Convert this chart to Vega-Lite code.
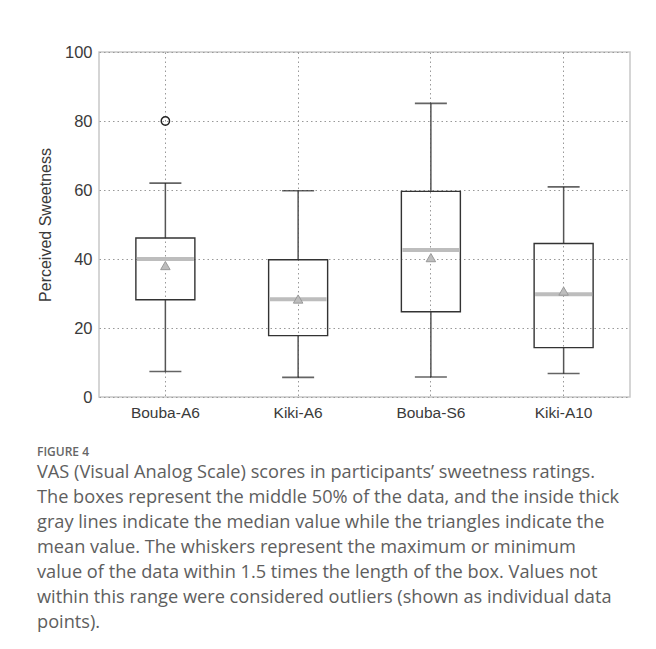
{
  "$schema": "https://vega.github.io/schema/vega-lite/v6.json",
  "width": 531,
  "height": 345,
  "autosize": "none",
  "padding": {"left": 99, "top": 52, "right": 26, "bottom": 252},
  "background": "white",
  "config": {
    "view": {"stroke": "#c8c8c8", "strokeWidth": 1.5},
    "font": "Liberation Sans"
  },
  "title": {
    "text": "FIGURE 4",
    "subtitle": [
      "VAS (Visual Analog Scale) scores in participants’ sweetness ratings.",
      "The boxes represent the middle 50% of the data, and the inside thick",
      "gray lines indicate the median value while the triangles indicate the",
      "mean value. The whiskers represent the maximum or minimum",
      "value of the data within 1.5 times the length of the box. Values not",
      "within this range were considered outliers (shown as individual data",
      "points)."
    ],
    "orient": "bottom",
    "anchor": "start",
    "frame": "group",
    "dx": -62,
    "offset": 26,
    "font": "Open Sans",
    "fontSize": 12,
    "fontWeight": 600,
    "color": "#666666",
    "subtitleFont": "Open Sans",
    "subtitleFontSize": 18.2,
    "subtitleColor": "#5e5e5e",
    "subtitleLineHeight": 25,
    "subtitlePadding": 5
  },
  "datasets": {
    "stats": [
      {"group": "Bouba-A6", "lo": 7.4, "q1": 28.2, "median": 40, "q3": 46.1, "hi": 62, "mean": 38.1},
      {"group": "Kiki-A6", "lo": 5.7, "q1": 17.8, "median": 28.3, "q3": 39.8, "hi": 59.8, "mean": 28.4},
      {"group": "Bouba-S6", "lo": 5.8, "q1": 24.7, "median": 42.6, "q3": 59.6, "hi": 85.1, "mean": 40.4},
      {"group": "Kiki-A10", "lo": 6.8, "q1": 14.3, "median": 29.8, "q3": 44.5, "hi": 60.9, "mean": 30.7}
    ],
    "outliers": [
      {"group": "Bouba-A6", "value": 80}
    ]
  },
  "data": {"name": "stats"},
  "encoding": {
    "x": {
      "field": "group",
      "type": "nominal",
      "sort": null,
      "scale": {"domain": ["Bouba-A6", "Kiki-A6", "Bouba-S6", "Kiki-A10"], "paddingInner": 0, "paddingOuter": 0},
      "axis": {
        "title": null,
        "labelAngle": 0,
        "labelFontSize": 15.5,
        "labelColor": "#3a3a3a",
        "labelPadding": 8,
        "ticks": false,
        "domain": false,
        "grid": true,
        "bandPosition": 0.5,
        "gridDash": [1.5, 3],
        "gridColor": "#999999",
        "gridWidth": 1
      }
    }
  },
  "layer": [
    {
      "mark": {"type": "rule", "color": "#555555", "strokeWidth": 1.5},
      "encoding": {
        "y": {
          "field": "lo",
          "type": "quantitative",
          "title": "Perceived Sweetness",
          "scale": {"domain": [0, 100], "nice": false},
          "axis": {
            "titleFontSize": 16,
            "titleFontWeight": "normal",
            "titleColor": "#3a3a3a",
            "titlePadding": 11,
            "values": [0, 20, 40, 60, 80, 100],
            "labelFontSize": 16.5,
            "labelColor": "#3a3a3a",
            "labelPadding": 7,
            "ticks": false,
            "domain": false,
            "grid": true,
            "gridDash": [1.5, 3],
            "gridColor": "#999999",
            "gridWidth": 1
          }
        },
        "y2": {"field": "q1"}
      }
    },
    {
      "mark": {"type": "rule", "color": "#555555", "strokeWidth": 1.5},
      "encoding": {
        "y": {"field": "q3", "type": "quantitative", "title": "Perceived Sweetness"},
        "y2": {"field": "hi"}
      }
    },
    {
      "mark": {"type": "tick", "color": "#222222", "size": 32, "thickness": 1.6},
      "encoding": {
        "y": {"field": "lo", "type": "quantitative", "title": "Perceived Sweetness"}
      }
    },
    {
      "mark": {"type": "tick", "color": "#222222", "size": 32, "thickness": 1.6},
      "encoding": {
        "y": {"field": "hi", "type": "quantitative", "title": "Perceived Sweetness"}
      }
    },
    {
      "mark": {"type": "bar", "size": 59, "fill": "white", "fillOpacity": 0, "stroke": "#333333", "strokeWidth": 1.4},
      "encoding": {
        "y": {"field": "q1", "type": "quantitative", "title": "Perceived Sweetness"},
        "y2": {"field": "q3"}
      }
    },
    {
      "mark": {"type": "tick", "color": "#bdbdbd", "size": 57, "thickness": 4, "opacity": 1},
      "encoding": {
        "y": {"field": "median", "type": "quantitative", "title": "Perceived Sweetness"}
      }
    },
    {
      "mark": {"type": "point", "shape": "triangle-up", "size": 90, "filled": true, "fill": "#bdbdbd", "stroke": "#999999", "strokeWidth": 1, "opacity": 1},
      "encoding": {
        "y": {"field": "mean", "type": "quantitative", "title": "Perceived Sweetness"}
      }
    },
    {
      "data": {"name": "outliers"},
      "mark": {"type": "point", "shape": "circle", "size": 70, "filled": false, "stroke": "#222222", "strokeWidth": 1.4, "opacity": 1},
      "encoding": {
        "y": {"field": "value", "type": "quantitative", "title": "Perceived Sweetness"}
      }
    }
  ]
}
